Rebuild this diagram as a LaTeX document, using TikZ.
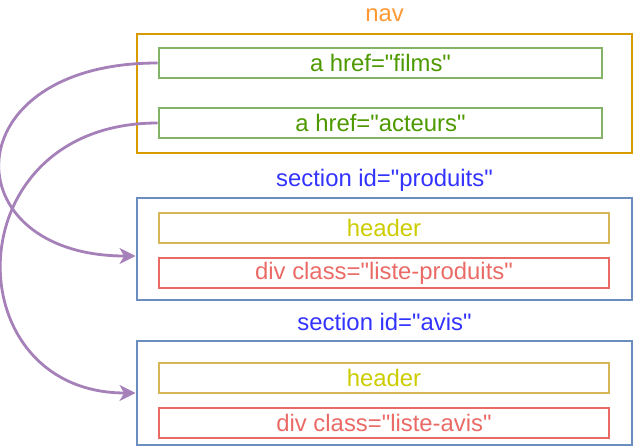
\documentclass[tikz,border=0pt]{standalone}
\usepackage{fontspec}
\setmainfont{Liberation Sans}[Ligatures=TeXOff]
\usetikzlibrary{arrows.meta,calc}
\definecolor{navstroke}{HTML}{D79B00}
\definecolor{navtext}{HTML}{FF9933}
\definecolor{gstroke}{HTML}{82B366}
\definecolor{gtext}{HTML}{4D9900}
\definecolor{bstroke}{HTML}{6C8EBF}
\definecolor{btext}{HTML}{3333FF}
\definecolor{ystroke}{HTML}{D6B656}
\definecolor{ytext}{HTML}{CCCC00}
\definecolor{rstroke}{HTML}{EA6B66}
\definecolor{purp}{HTML}{A680B8}
\begin{document}
\begin{tikzpicture}[x=0.75pt,y=-0.75pt,
  every node/.style={font=\fontsize{17.9}{21}\selectfont, inner sep=0pt},
  box/.style={draw, line width=2.2pt, minimum height=22.5pt},
  navbox/.style={draw=navstroke, line width=2.2pt, minimum width=371.25pt, minimum height=89.25pt},
  secbox/.style={draw=bstroke, line width=2.2pt, minimum width=371.25pt},
  linkbox/.style={box, draw=gstroke, text=gtext, minimum width=332.25pt},
  hdrbox/.style={box, draw=ystroke, text=ytext, minimum width=337.5pt},
  divbox/.style={box, draw=rstroke, text=rstroke, minimum width=337.5pt},
  link/.style={draw=purp, line width=2.1pt, -{Stealth[length=12pt, width=12pt, inset=3.5pt]}}
]
\useasboundingbox (0,0) rectangle (633,447);
% labels
\node[text=navtext] (navlbl) at (384.5,15) {nav};
\node[text=btext] (sec1lbl) at (384.5,180) {section id="produits"};
\node[text=btext] (sec2lbl) at (384.5,322) {section id="avis"};
% containers
\node[navbox] (nav) at (384.5,93.5) {};
\node[secbox, minimum height=76.5pt] (sec1) at (384.5,249) {};
\node[secbox, minimum height=78pt] (sec2) at (384.5,393) {};
% inner boxes
\node[linkbox] (films) at (380.5,63) {a href="films"};
\node[linkbox] (acteurs) at (380.5,123) {a href="acteurs"};
\node[hdrbox] (hdr1) at (384,228) {header};
\node[divbox] (div1) at (384,273) {div class="liste-produits"};
\node[hdrbox] (hdr2) at (384,378) {header};
\node[divbox] (div2) at (384,423) {div class="liste-avis"};
% targets
\coordinate (t1) at ($(sec1.west)+(0,7)$);
% connectors
\draw[link] (films.west) .. controls +(-206,0) and +(-184,0) .. (t1);
\draw[link] (acteurs.west) .. controls +(-204,0) and +(-182,0) .. (sec2.west);
\end{tikzpicture}
\end{document}
